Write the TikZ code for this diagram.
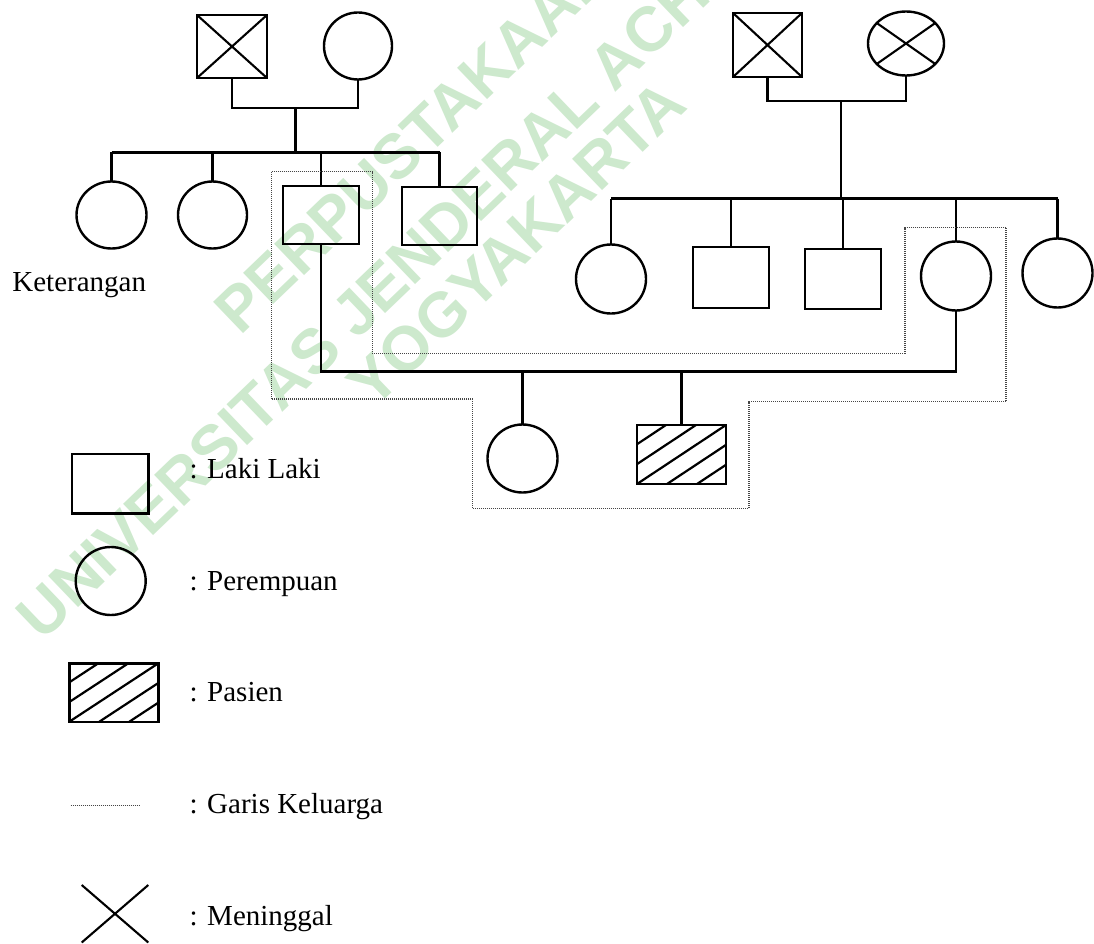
\documentclass[tikz,border=0pt]{standalone}
\usepackage{fontspec}
\setmainfont{Liberation Serif}
\newfontfamily\wmfont{Liberation Sans}
\usetikzlibrary{shapes.geometric}
\definecolor{wmgreen}{RGB}{205,233,205}
\definecolor{famgray}{RGB}{70,70,70}
\tikzset{
  sq/.style={draw, rectangle, line width=2.4pt, inner sep=0pt, outer sep=0pt},
  ci/.style={draw, ellipse, line width=2.4pt, inner sep=0pt, outer sep=0pt},
  con/.style={line width=2.8pt},
  fam/.style={famgray, line width=1.2pt, dash pattern=on 1pt off 1pt},
  lbl/.style={font=\fontsize{29}{34}\selectfont, anchor=base west, inner sep=0pt, outer sep=0pt},
  wm/.style={font=\wmfont\bfseries\fontsize{63}{63}\selectfont, text=wmgreen, anchor=base west, inner sep=0pt, rotate=43.8},
  cross/.style={line width=2.1pt}
}
\begin{document}
\begin{tikzpicture}[x=1pt,y=-1pt]
\useasboundingbox (0,0) rectangle (1094,944);
\clip (0,0) rectangle (1094,944);
\fill[white] (0,0) rectangle (1094,944);
% watermark
\node[wm] (wm1) at (240.2,336.9) {PERPUSTAKAAN};
\node[wm] (wm2) at (42.1,642.5) {UNIVERSITAS JENDERAL ACHMAD YANI};
\node[wm] (wm3) at (373.5,410.6) {YOGYAKARTA};

% left grandparents
\node[sq, minimum width=70pt, minimum height=63pt] (gf1) at (232,46.5) {};
\node[ci, minimum width=68pt, minimum height=67pt] (gm1) at (358,46) {};
\draw[cross] (gf1.north west) -- (gf1.south east) (gf1.north east) -- (gf1.south west);
% right grandparents
\node[sq, minimum width=69pt, minimum height=64pt] (gf2) at (767.5,45) {};
\node[ci, minimum width=76pt, minimum height=64pt] (gm2) at (906,43.5) {};
\draw[cross] (gf2.north west) -- (gf2.south east) (gf2.north east) -- (gf2.south west);
\draw[cross] (gm2.145) -- (gm2.325) (gm2.35) -- (gm2.215);

% left children
\node[ci, minimum width=70pt, minimum height=67pt] (c1) at (111.5,215) {};
\node[ci, minimum width=69pt, minimum height=67pt] (c2) at (212.5,215) {};
\node[sq, minimum width=76pt, minimum height=58pt] (fa) at (321,215) {};
\node[sq, minimum width=75pt, minimum height=58pt] (c4) at (439.5,216) {};
% right children
\node[ci, minimum width=70pt, minimum height=69pt] (ra) at (611,279) {};
\node[sq, minimum width=76pt, minimum height=61pt] (rb) at (731,277.5) {};
\node[sq, minimum width=76pt, minimum height=60pt] (rc) at (843,279) {};
\node[ci, minimum width=70pt, minimum height=69pt] (mo) at (956,276) {};
\node[ci, minimum width=70pt, minimum height=69pt] (re) at (1057.5,273) {};
% grandchildren
\node[ci, minimum width=70pt, minimum height=68pt] (g1) at (522.5,458.5) {};
\node[sq, minimum width=89pt, minimum height=59pt] (pt) at (681.5,454.5) {};
\begin{scope}
  \clip (pt.south west) rectangle (pt.north east);
  \foreach \k in {-2,...,2}
    \draw[line width=2.2pt] ([xshift=\k*30pt]pt.south west) -- ([xshift=\k*30pt]pt.north east);
\end{scope}

% junction coordinates
\coordinate (mL) at (295.5,108);
\coordinate (sL) at (295.5,152.5);
\coordinate (mR) at (841,101);
\coordinate (sR) at (841,198.5);
\coordinate (mFM) at (600,371.5);

% left family connectors
\draw[con] (gf1.south) -- (gf1.south |- mL) -- (gm1.south |- mL) -- (gm1.south);
\draw[con] (mL) -- (sL);
\draw[con] (c1.north |- sL) -- (c4.north |- sL);
\draw[con] (c1.north |- sL) -- (c1.north);
\draw[con] (c2.north |- sL) -- (c2.north);
\draw[con] (fa.north |- sL) -- (fa.north);
\draw[con] (c4.north |- sL) -- (c4.north);
% right family connectors
\draw[con] (gf2.south) -- (gf2.south |- mR) -- (gm2.south |- mR) -- (gm2.south);
\draw[con] (mR) -- (sR);
\draw[con] (ra.north |- sR) -- (re.north |- sR);
\draw[con] (ra.north |- sR) -- (ra.north);
\draw[con] (rb.north |- sR) -- (rb.north);
\draw[con] (rc.north |- sR) -- (rc.north);
\draw[con] (mo.north |- sR) -- (mo.north);
\draw[con] (re.north |- sR) -- (re.north);
% marriage and children
\draw[con] (fa.south) -- (fa.south |- mFM) -- (mo.south |- mFM) -- (mo.south);
\draw[con] (g1.north |- mFM) -- (g1.north);
\draw[con] (pt.north |- mFM) -- (pt.north);

% family line (dotted)
\draw[fam] (271.7,171.7) -- (372.3,171.7) -- (372.3,353.3) -- (905,353.3) -- (905,227.7)
  -- (1006,227.7) -- (1006,401.7) -- (749,401.7) -- (749,508.3) -- (472.7,508.3)
  -- (472.7,399) -- (271.7,399) -- cycle;

% legend
\node[lbl] (ket) at (12.4,291.7) {Keterangan};
\node[sq, minimum width=76.6pt, minimum height=59.3pt] (lsq) at (110,483.7) {};
\node[lbl] (tsq) at (189.5,478.3) {: Laki Laki};
\node[ci, minimum width=70pt, minimum height=68pt] (lci) at (110.7,581) {};
\node[lbl] (tci) at (189.5,590) {: Perempuan};
\node[sq, minimum width=89pt, minimum height=58.4pt] (lha) at (113.8,692.5) {};
\begin{scope}
  \clip (lha.south west) rectangle (lha.north east);
  \foreach \k in {-2,...,2}
    \draw[line width=2.2pt] ([xshift=\k*30pt]lha.south west) -- ([xshift=\k*30pt]lha.north east);
\end{scope}
\node[lbl] (tha) at (189.5,701.7) {: Pasien};
\coordinate (fl1) at (70.7,805.7);
\coordinate (fl2) at (140,805.7);
\draw[fam] (fl1) -- (fl2);
\node[lbl] (tfl) at (189.5,813.3) {: Garis Keluarga};
\coordinate (x1) at (81.7,885);
\coordinate (x2) at (148.3,942.5);
\coordinate (x3) at (148.3,885);
\coordinate (x4) at (81.7,942.5);
\draw[cross] (x1) -- (x2) (x3) -- (x4);
\node[lbl] (tx) at (189.5,925) {: Meninggal};
\end{tikzpicture}
\end{document}
